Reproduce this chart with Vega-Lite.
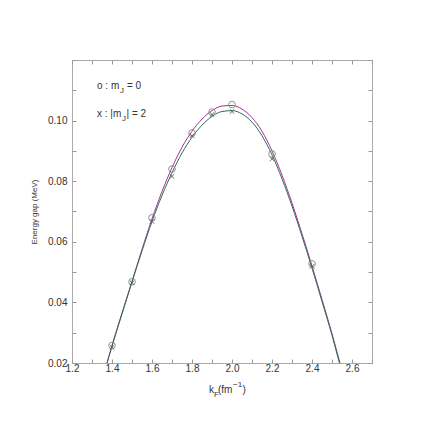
{
  "$schema": "https://vega.github.io/schema/vega-lite/v6.json",
  "width": 300,
  "height": 303,
  "autosize": "none",
  "padding": {"left": 72, "top": 60, "right": 64, "bottom": 73},
  "background": "white",
  "config": {
    "view": {"stroke": "#aaaaaa", "strokeWidth": 1},
    "font": "Liberation Sans",
    "axis": {"grid": false, "domain": false, "tickColor": "#999999", "labelColor": "#333333", "titleColor": "#333333", "labelFont": "Liberation Sans", "titleFont": "Liberation Sans"}
  },
  "datasets": {
    "curves": [
      {"k": 1.375, "gap": 0.0200, "series": "m0"},
      {"k": 1.40, "gap": 0.0258, "series": "m0"},
      {"k": 1.45, "gap": 0.0365, "series": "m0"},
      {"k": 1.50, "gap": 0.0470, "series": "m0"},
      {"k": 1.55, "gap": 0.0575, "series": "m0"},
      {"k": 1.60, "gap": 0.0676, "series": "m0"},
      {"k": 1.65, "gap": 0.0766, "series": "m0"},
      {"k": 1.70, "gap": 0.0845, "series": "m0"},
      {"k": 1.75, "gap": 0.0912, "series": "m0"},
      {"k": 1.80, "gap": 0.0965, "series": "m0"},
      {"k": 1.85, "gap": 0.1005, "series": "m0"},
      {"k": 1.90, "gap": 0.1033, "series": "m0"},
      {"k": 1.95, "gap": 0.1048, "series": "m0"},
      {"k": 2.00, "gap": 0.1050, "series": "m0"},
      {"k": 2.05, "gap": 0.1038, "series": "m0"},
      {"k": 2.10, "gap": 0.1010, "series": "m0"},
      {"k": 2.15, "gap": 0.0965, "series": "m0"},
      {"k": 2.20, "gap": 0.0900, "series": "m0"},
      {"k": 2.25, "gap": 0.0820, "series": "m0"},
      {"k": 2.30, "gap": 0.0728, "series": "m0"},
      {"k": 2.35, "gap": 0.0627, "series": "m0"},
      {"k": 2.40, "gap": 0.0520, "series": "m0"},
      {"k": 2.45, "gap": 0.0410, "series": "m0"},
      {"k": 2.50, "gap": 0.0297, "series": "m0"},
      {"k": 2.54, "gap": 0.0200, "series": "m0"},
      {"k": 1.375, "gap": 0.0200, "series": "m2"},
      {"k": 1.40, "gap": 0.0255, "series": "m2"},
      {"k": 1.45, "gap": 0.0362, "series": "m2"},
      {"k": 1.50, "gap": 0.0467, "series": "m2"},
      {"k": 1.55, "gap": 0.0570, "series": "m2"},
      {"k": 1.60, "gap": 0.0667, "series": "m2"},
      {"k": 1.65, "gap": 0.0753, "series": "m2"},
      {"k": 1.70, "gap": 0.0828, "series": "m2"},
      {"k": 1.75, "gap": 0.0893, "series": "m2"},
      {"k": 1.80, "gap": 0.0945, "series": "m2"},
      {"k": 1.85, "gap": 0.0985, "series": "m2"},
      {"k": 1.90, "gap": 0.1014, "series": "m2"},
      {"k": 1.95, "gap": 0.1030, "series": "m2"},
      {"k": 2.00, "gap": 0.1033, "series": "m2"},
      {"k": 2.05, "gap": 0.1022, "series": "m2"},
      {"k": 2.10, "gap": 0.0995, "series": "m2"},
      {"k": 2.15, "gap": 0.0950, "series": "m2"},
      {"k": 2.20, "gap": 0.0887, "series": "m2"},
      {"k": 2.25, "gap": 0.0808, "series": "m2"},
      {"k": 2.30, "gap": 0.0718, "series": "m2"},
      {"k": 2.35, "gap": 0.0618, "series": "m2"},
      {"k": 2.40, "gap": 0.0513, "series": "m2"},
      {"k": 2.45, "gap": 0.0403, "series": "m2"},
      {"k": 2.50, "gap": 0.0291, "series": "m2"},
      {"k": 2.537, "gap": 0.0200, "series": "m2"}
    ],
    "points": [
      {"k": 1.4, "gap": 0.0258, "series": "m0"},
      {"k": 1.5, "gap": 0.0468, "series": "m0"},
      {"k": 1.6, "gap": 0.0679, "series": "m0"},
      {"k": 1.7, "gap": 0.0840, "series": "m0"},
      {"k": 1.8, "gap": 0.0959, "series": "m0"},
      {"k": 1.9, "gap": 0.1028, "series": "m0"},
      {"k": 2.0, "gap": 0.1053, "series": "m0"},
      {"k": 2.2, "gap": 0.0890, "series": "m0"},
      {"k": 2.4, "gap": 0.0527, "series": "m0"},
      {"k": 1.4, "gap": 0.0252, "series": "m2"},
      {"k": 1.5, "gap": 0.0465, "series": "m2"},
      {"k": 1.6, "gap": 0.0667, "series": "m2"},
      {"k": 1.7, "gap": 0.0816, "series": "m2"},
      {"k": 1.8, "gap": 0.0950, "series": "m2"},
      {"k": 1.9, "gap": 0.1020, "series": "m2"},
      {"k": 2.0, "gap": 0.1030, "series": "m2"},
      {"k": 2.2, "gap": 0.0874, "series": "m2"},
      {"k": 2.4, "gap": 0.0519, "series": "m2"}
    ],
    "labels": [
      {"k": 1.325, "gap": 0.1113, "text": "o : m", "role": "main"},
      {"k": 1.44, "gap": 0.1113, "text": "J", "role": "sub"},
      {"k": 1.475, "gap": 0.1113, "text": "= 0", "role": "main"},
      {"k": 1.325, "gap": 0.1022, "text": "x : |m", "role": "main"},
      {"k": 1.45, "gap": 0.1022, "text": "J", "role": "sub"},
      {"k": 1.4725, "gap": 0.1022, "text": "| = 2", "role": "main"},
      {"k": 1.885, "gap": 0.0112, "text": "k", "role": "main"},
      {"k": 1.91, "gap": 0.0112, "text": "F", "role": "sub"},
      {"k": 1.93, "gap": 0.0112, "text": "(fm", "role": "main"},
      {"k": 2.005, "gap": 0.0112, "text": "−1", "role": "sup"},
      {"k": 2.0525, "gap": 0.0112, "text": ")", "role": "main"}
    ]
  },
  "resolve": {"axis": {"x": "independent", "y": "independent"}},
  "layer": [
    {
      "data": {"name": "curves"},
      "transform": [{"filter": "datum.series == 'm0'"}],
      "mark": {"type": "line", "clip": true, "strokeWidth": 1, "interpolate": "monotone", "color": "#a0359a"},
      "encoding": {
        "x": {"field": "k", "type": "quantitative", "scale": {"domain": [1.2, 2.7], "nice": false, "zero": false},
          "axis": {"orient": "bottom", "title": null, "values": [1.2,1.3,1.4,1.5,1.6,1.7,1.8,1.9,2.0,2.1,2.2,2.3,2.4,2.5,2.6,2.7],
            "labelExpr": "(round(datum.value*10) % 2 == 0 && datum.value < 2.65) ? format(datum.value, '.1f') : ''",
            "tickSize": -4, "labelPadding": 4, "labelFontSize": 10, "labelFlush": false}},
        "y": {"field": "gap", "type": "quantitative", "scale": {"domain": [0.02, 0.12], "nice": false, "zero": false},
          "axis": {"orient": "left", "title": "Energy gap (MeV)", "titleFontSize": 8, "titleFontWeight": "normal", "titlePadding": 9,
            "values": [0.02,0.03,0.04,0.05,0.06,0.07,0.08,0.09,0.10,0.11,0.12],
            "labelExpr": "(round(datum.value*100) % 2 == 0 && datum.value < 0.115) ? format(datum.value, '.2f') : ''",
            "tickSize": -4, "labelPadding": 9, "labelFontSize": 10, "labelFlush": false}}
      }
    },
    {
      "data": {"name": "curves"},
      "transform": [{"filter": "datum.series == 'm2'"}],
      "mark": {"type": "line", "clip": true, "strokeWidth": 1, "interpolate": "monotone", "color": "#2f6e50"},
      "encoding": {
        "x": {"field": "k", "type": "quantitative", "scale": {"domain": [1.2, 2.7], "nice": false, "zero": false},
          "axis": {"orient": "top", "title": null, "labels": false, "values": [1.2,1.3,1.4,1.5,1.6,1.7,1.8,1.9,2.0,2.1,2.2,2.3,2.4,2.5,2.6,2.7], "tickSize": -4}},
        "y": {"field": "gap", "type": "quantitative", "scale": {"domain": [0.02, 0.12], "nice": false, "zero": false},
          "axis": {"orient": "right", "title": null, "labels": false, "values": [0.02,0.03,0.04,0.05,0.06,0.07,0.08,0.09,0.10,0.11,0.12], "tickSize": -4}}
      }
    },
    {
      "data": {"name": "points"},
      "transform": [{"filter": "datum.series == 'm0'"}],
      "mark": {"type": "point", "shape": "circle", "filled": false, "size": 45, "stroke": "#888888", "strokeWidth": 0.9, "opacity": 1},
      "encoding": {
        "x": {"field": "k", "type": "quantitative", "axis": null},
        "y": {"field": "gap", "type": "quantitative", "axis": null}
      }
    },
    {
      "data": {"name": "points"},
      "transform": [{"filter": "datum.series == 'm2'"}],
      "mark": {"type": "point", "shape": "M-1,-1L1,1M-1,1L1,-1", "filled": false, "size": 20, "stroke": "#555555", "strokeWidth": 0.9, "opacity": 1},
      "encoding": {
        "x": {"field": "k", "type": "quantitative", "axis": null},
        "y": {"field": "gap", "type": "quantitative", "axis": null}
      }
    },
    {
      "data": {"name": "labels"},
      "transform": [{"filter": "datum.role == 'main'"}],
      "mark": {"type": "text", "align": "left", "baseline": "middle", "fontSize": 10, "color": "#333333", "clip": false},
      "encoding": {
        "x": {"field": "k", "type": "quantitative", "axis": null},
        "y": {"field": "gap", "type": "quantitative", "axis": null},
        "text": {"field": "text"}
      }
    },
    {
      "data": {"name": "labels"},
      "transform": [{"filter": "datum.role == 'sub'"}],
      "mark": {"type": "text", "align": "left", "baseline": "middle", "fontSize": 8, "dy": 5, "color": "#333333", "clip": false},
      "encoding": {
        "x": {"field": "k", "type": "quantitative", "axis": null},
        "y": {"field": "gap", "type": "quantitative", "axis": null},
        "text": {"field": "text"}
      }
    },
    {
      "data": {"name": "labels"},
      "transform": [{"filter": "datum.role == 'sup'"}],
      "mark": {"type": "text", "align": "left", "baseline": "middle", "fontSize": 8, "dy": -5, "color": "#333333", "clip": false},
      "encoding": {
        "x": {"field": "k", "type": "quantitative", "axis": null},
        "y": {"field": "gap", "type": "quantitative", "axis": null},
        "text": {"field": "text"}
      }
    }
  ]
}
